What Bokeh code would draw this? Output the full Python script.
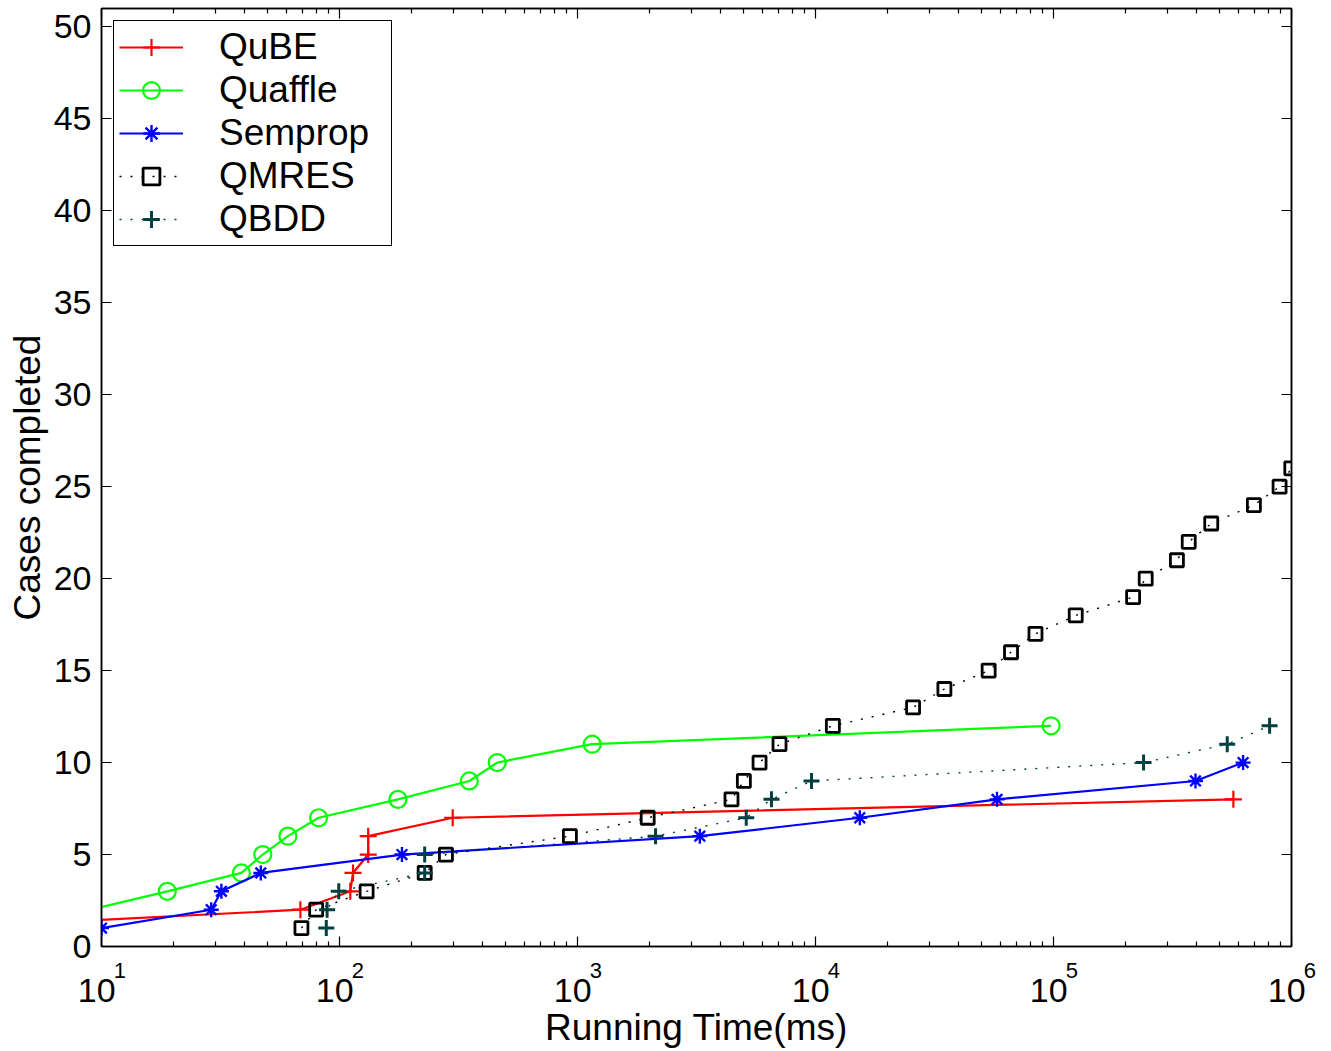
from bokeh.plotting import figure
from bokeh.models import (FixedTicker, LogAxis, LinearAxis, Legend, LegendItem, Range1d)
from bokeh.embed import file_html
from bokeh.resources import INLINE

# ---- data (running time in ms, cases completed) ----
qube_x = [2.1, 68.5, 111, 114, 132, 132, 299, 570000]
qube_y = [1, 2, 3, 4, 5, 6, 7, 8]

quaffle_x = [4.0, 9.0, 18.9, 38.7, 47.6, 60.7, 81.7, 176, 351, 460, 1153, 97700]
quaffle_y = [1, 2, 3, 4, 5, 6, 7, 8, 9, 10, 11, 12]

semprop_x = [10, 28.9, 31.9, 46.7, 183, 3266, 15350, 57900, 395000, 626000]
semprop_y = [1, 2, 3, 4, 5, 6, 7, 8, 9, 10]

qmres_x = [69.2, 79.8, 130, 228, 280, 929, 1972, 4436, 5000, 5820, 7060, 11830, 25700,
           34800, 53400, 66300, 84000, 124000, 216000, 244000, 330000, 370000, 460000,
           695000, 891000, 998000]
qmres_y = list(range(1, 27))

qbdd_x = [88, 88.7, 99.3, 228, 228, 2128, 5117, 6530, 9620, 239000, 537000, 809000]
qbdd_y = [1, 2, 3, 4, 5, 6, 7, 8, 9, 10, 11, 12]

x_major = [10, 100, 1000, 10000, 100000, 1000000]
x_exponents = ["1", "2", "3", "4", "5", "6"]
y_ticks = [0, 5, 10, 15, 20, 25, 30, 35, 40, 45, 50]

FONT = "Liberation Sans"
NBSP = "\u00a0"
XMIN, XMAX = 10, 1e6
YMIN, YMAX = 0, 51

p = figure(frame_width=1190, frame_height=938, x_axis_type="log",
           x_range=Range1d(XMIN, XMAX), y_range=Range1d(YMIN, YMAX),
           output_backend="svg", toolbar_location=None,
           min_border_left=101, min_border_right=40, min_border_top=8, min_border_bottom=105)
p.xgrid.visible = False
p.ygrid.visible = False
p.outline_line_color = "black"
p.outline_line_width = 1.5
p.background_fill_color = "white"
p.border_fill_color = "white"

x_minor = [m * d for d in x_major[:-1] for m in range(2, 10)]
xt = FixedTicker(ticks=x_major, minor_ticks=x_minor)
yt = FixedTicker(ticks=y_ticks)


def style_axis(ax, show_labels):
    ax.axis_line_color = "black"
    ax.axis_line_width = 1.5
    ax.major_tick_line_color = "black"
    ax.major_tick_line_width = 1.2
    ax.minor_tick_line_color = "black"
    ax.minor_tick_line_width = 1.2
    ax.major_tick_in = 10
    ax.major_tick_out = 0
    ax.minor_tick_in = 5
    ax.minor_tick_out = 0
    if not show_labels:
        ax.major_label_text_font_size = "1px"
        ax.major_label_text_color = None
        ax.major_label_standoff = 0


def label_axis(ax):
    ax.axis_line_color = None
    ax.major_tick_line_color = None
    ax.minor_tick_line_color = None
    ax.major_tick_in = 0
    ax.major_tick_out = 0
    ax.minor_tick_in = 0
    ax.minor_tick_out = 0
    ax.major_label_text_font = FONT
    ax.major_label_text_color = "black"


# main bottom axis: ticks only
xa = p.xaxis[0]
xa.ticker = xt
style_axis(xa, False)

# exponent row of the x tick labels (shifted right of the tick with no-break spaces)
exp_axis = LogAxis(ticker=FixedTicker(ticks=x_major))
label_axis(exp_axis)
exp_axis.major_label_overrides = {v: NBSP * 6 + e for v, e in zip(x_major, x_exponents)}
exp_axis.major_label_text_font_size = "22px"
exp_axis.major_label_standoff = 11
p.add_layout(exp_axis, "below")

# base row "10" of the x tick labels, plus the axis title
base_axis = LogAxis(ticker=FixedTicker(ticks=x_major))
label_axis(base_axis)
base_axis.major_label_overrides = {v: "10" + NBSP for v in x_major}
base_axis.major_label_text_font_size = "34px"
base_axis.major_label_standoff = -15
base_axis.axis_label = "Running Time(ms)"
base_axis.axis_label_text_font = FONT
base_axis.axis_label_text_font_size = "37px"
base_axis.axis_label_text_font_style = "normal"
base_axis.axis_label_text_color = "black"
base_axis.axis_label_standoff = -5
p.add_layout(base_axis, "below")

ya = p.yaxis[0]
ya.ticker = yt
style_axis(ya, True)
ya.minor_tick_in = 0
ya.major_label_text_font = FONT
ya.major_label_text_font_size = "34px"
ya.major_label_text_color = "black"
ya.major_label_standoff = 10
ya.axis_label = "Cases completed"
ya.axis_label_text_font = FONT
ya.axis_label_text_font_size = "37px"
ya.axis_label_text_font_style = "normal"
ya.axis_label_text_color = "black"
ya.axis_label_standoff = 3

top = LogAxis(ticker=xt)
style_axis(top, False)
p.add_layout(top, "above")
right = LinearAxis(ticker=yt)
style_axis(right, False)
right.minor_tick_in = 0
p.add_layout(right, "right")


def visible(xs, ys):
    pts = [(a, b) for a, b in zip(xs, ys) if XMIN <= a <= XMAX]
    return [a for a, _ in pts], [b for _, b in pts]


items = []
series = [
    ("QuBE", qube_x, qube_y, "#ff0000", "cross", 17, 2.2, None, 2.2),
    ("Quaffle", quaffle_x, quaffle_y, "#00ff00", "circle", 17, 2.2, None, 2.2),
    ("Semprop", semprop_x, semprop_y, "#0000ff", "asterisk", 15, 2.2, None, 2.4),
    ("QMRES", qmres_x, qmres_y, "#000000", "square", 13, 1.4, "2 9", 2.8),
    ("QBDD", qbdd_x, qbdd_y, "#004040", "cross", 16, 1.4, "2 9", 3.0),
]
for name, xs, ys, col, mk, sz, lw, dash, mlw in series:
    lr = p.line(xs, ys, line_color=col, line_width=lw,
                line_dash=dash if dash else "solid")
    vx, vy = visible(xs, ys)
    mr = p.scatter(vx, vy, marker=mk, size=sz, line_color=col, fill_color=None,
                   line_width=mlw)
    items.append(LegendItem(label=name, renderers=[lr, mr]))

legend = Legend(items=items, location="top_left", margin=12, padding=5,
                glyph_width=64, glyph_height=42, label_standoff=36, spacing=1,
                label_width=167,
                label_text_font=FONT, label_text_font_size="37px",
                label_text_color="black",
                border_line_color="black", border_line_width=1.5, border_line_alpha=1.0,
                background_fill_color="white", background_fill_alpha=1.0)
p.add_layout(legend)

open("out.html", "w").write(file_html(p, INLINE))
